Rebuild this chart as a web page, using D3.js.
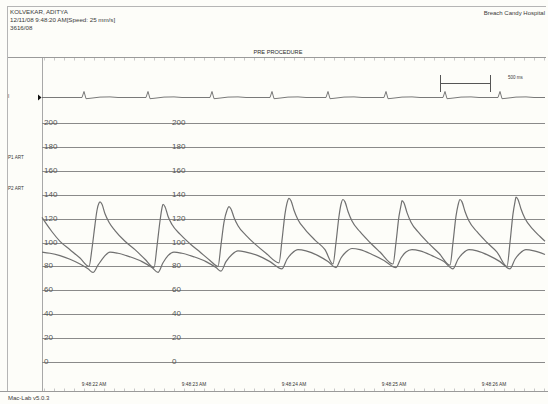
<!DOCTYPE html>
<html>
<head>
<meta charset="utf-8">
<script src="https://cdn.jsdelivr.net/npm/d3@7"></script>
<style>
  html, body { margin: 0; padding: 0; background: #fdfdf9; }
  svg { display: block; font-family: "Liberation Sans", Arial, sans-serif; }
</style>
</head>
<body>
<svg id="chart" width="548" height="404"></svg>
<script>
// Recording window: seconds after 9:48:20 AM
const timeDomain = [1.48, 6.51];
const pressureTicks = [0, 20, 40, 60, 80, 100, 120, 140, 160, 180, 200];
const timeTicks = [2, 3, 4, 5, 6];
const timeLabels = ["9:48:22 AM", "9:48:23 AM", "9:48:24 AM", "9:48:25 AM", "9:48:26 AM"];
const channelNames = ["I", "P1 ART", "P2 ART"];
const headerLines = ["KOLVEKAR, ADITYA", "12/11/08 9:48:20 AM[Speed: 25 mm/s]", "3616/08"];
const hospital = "Breach Candy Hospital";
const phase = "PRE PROCEDURE";
const footer = "Mac-Lab v5.0.3";
const scaleBar = [5.46, 5.96];   // 500 ms calibration bar
const scaleBarLabel = "500 ms";

// P1 ART pressure samples: [seconds, mmHg]
const p1Art = [
  [1.48,121],[1.52,116],[1.58,109],[1.66,101],[1.76,94],[1.86,87],[1.95,80],
  [1.98,95],[2.01,115],[2.03,127],[2.05,133],[2.06,134],[2.08,132],[2.11,124],[2.15,117],[2.21,110],[2.31,101],[2.41,94],[2.51,86],[2.60,79],
  [2.63,97],[2.66,118],[2.68,129],[2.69,132],[2.71,130],[2.74,122],[2.78,115],[2.86,107],[2.96,99],[3.06,92],[3.16,85],[3.24,80],
  [3.27,98],[3.30,117],[3.33,127],[3.35,130],[3.37,128],[3.40,121],[3.44,114],[3.52,106],[3.62,98],[3.72,91],[3.85,83],
  [3.88,102],[3.91,124],[3.93,133],[3.95,137],[3.97,135],[4.00,127],[4.04,119],[4.11,111],[4.21,102],[4.31,94],[4.39,82],
  [4.42,100],[4.45,122],[4.47,132],[4.49,136],[4.51,134],[4.54,126],[4.58,118],[4.66,109],[4.76,100],[4.86,92],[4.99,82],
  [5.02,100],[5.05,122],[5.07,131],[5.08,135],[5.10,133],[5.13,125],[5.17,117],[5.25,108],[5.35,99],[5.45,91],[5.56,81],
  [5.59,100],[5.62,122],[5.64,131],[5.66,136],[5.68,134],[5.71,126],[5.75,118],[5.83,109],[5.93,100],[6.03,92],[6.13,80],
  [6.16,100],[6.19,124],[6.21,134],[6.22,138],[6.24,136],[6.27,128],[6.31,120],[6.39,111],[6.46,105],[6.51,101]
];

// P2 ART pressure samples: [seconds, mmHg]
const p2Art = [
  [1.48,92],[1.56,91],[1.66,89],[1.76,86],[1.86,82],[1.94,78],[1.99,75],[2.04,81],[2.10,88],[2.16,92],[2.24,91],[2.36,88],[2.48,84],[2.58,79],[2.64,75],
  [2.69,83],[2.74,89],[2.80,92],[2.88,91],[3.00,88],[3.12,84],[3.22,79],[3.27,76],
  [3.32,84],[3.38,90],[3.44,93],[3.52,92],[3.64,89],[3.76,84],[3.88,78],
  [3.93,86],[3.98,91],[4.04,94],[4.12,93],[4.24,89],[4.34,84],[4.42,79],
  [4.47,87],[4.52,92],[4.58,95],[4.66,94],[4.78,90],[4.90,85],[5.02,79],
  [5.07,87],[5.12,92],[5.18,94],[5.26,93],[5.38,89],[5.50,84],[5.59,78],
  [5.64,86],[5.69,91],[5.75,94],[5.83,93],[5.95,89],[6.06,84],[6.16,78],
  [6.21,86],[6.26,91],[6.32,94],[6.40,93],[6.51,90]
];

// Lead I ECG samples: [seconds, mV]
const ecgLeadI = [
  [1.48,0],
  [1.88,0],[1.90,0.6],[1.92,-0.12],[1.96,-0.08],[2.06,0.04],[2.16,0.06],[2.24,0],
  [2.52,0],[2.54,0.6],[2.56,-0.12],[2.60,-0.08],[2.70,0.04],[2.80,0.06],[2.88,0],
  [3.16,0],[3.18,0.6],[3.20,-0.12],[3.24,-0.08],[3.34,0.04],[3.44,0.06],[3.52,0],
  [3.76,0],[3.78,0.6],[3.80,-0.12],[3.84,-0.08],[3.94,0.04],[4.04,0.06],[4.12,0],
  [4.32,0],[4.34,0.6],[4.36,-0.12],[4.40,-0.08],[4.50,0.04],[4.60,0.06],[4.68,0],
  [4.90,0],[4.92,0.6],[4.94,-0.12],[4.98,-0.08],[5.08,0.04],[5.18,0.06],[5.26,0],
  [5.49,0],[5.51,0.6],[5.53,-0.12],[5.57,-0.08],[5.67,0.04],[5.77,0.06],[5.85,0],
  [6.04,0],[6.06,0.6],[6.08,-0.12],[6.12,-0.08],[6.22,0.04],[6.32,0.06],[6.40,0],
  [6.51,0]
];

const svg = d3.select("#chart");
const W = 548, H = 404;
const plotLeft = 42, plotRight = 545;

const x = d3.scaleLinear().domain(timeDomain).range([plotLeft, plotRight]);
const y = d3.scaleLinear().domain([0, 200]).range([362, 123]);
const yEcg = d3.scaleLinear().domain([0, 1]).range([97.5, 87.5]);

const ink = "#3a3a3a", gridCol = "#8a8a8a", traceCol = "#707070";

// outer frame
svg.append("line").attr("x1", 7).attr("x2", 546).attr("y1", 6.5).attr("y2", 6.5)
  .attr("stroke", "#b5b5b5").attr("stroke-width", 1);
svg.append("line").attr("x1", 7.5).attr("x2", 7.5).attr("y1", 6).attr("y2", 391)
  .attr("stroke", "#b5b5b5").attr("stroke-width", 1);
svg.append("line").attr("x1", plotLeft + 0.5).attr("x2", plotLeft + 0.5).attr("y1", 57).attr("y2", 391)
  .attr("stroke", "#a8a8a8").attr("stroke-width", 1);

// header text
svg.selectAll("text.hdr").data(headerLines).join("text")
  .attr("class", "hdr").attr("x", 10).attr("y", (d, i) => 14 + i * 8)
  .attr("font-size", 6.2).attr("fill", ink).text(d => d);
svg.append("text").attr("x", 545).attr("y", 15).attr("text-anchor", "end")
  .attr("font-size", 6).attr("fill", ink).text(hospital);
svg.append("text").attr("x", 278).attr("y", 54).attr("text-anchor", "middle")
  .attr("font-size", 5.6).attr("fill", "#2a2a2a").text(phase);

// time ruler lines at top and bottom
const rulerTicks = d3.range(15, 66).map(d => d / 10);
const topAxis = d3.axisBottom(x).tickValues(rulerTicks).tickSize(3).tickFormat("");
svg.append("g").attr("transform", "translate(0,57.5)").call(topAxis)
  .call(g => g.select(".domain").remove())
  .call(g => g.selectAll("line").attr("stroke", "#c8c8c8"));
svg.append("line").attr("x1", 8).attr("x2", 546).attr("y1", 57.5).attr("y2", 57.5)
  .attr("stroke", "#9a9a9a").attr("stroke-width", 1);
const botAxis = d3.axisTop(x).tickValues(rulerTicks).tickSize(3).tickFormat("");
svg.append("g").attr("transform", "translate(0,391.5)").call(botAxis)
  .call(g => g.select(".domain").remove())
  .call(g => g.selectAll("line").attr("stroke", "#c8c8c8"));
svg.append("line").attr("x1", 0).attr("x2", 548).attr("y1", 391.5).attr("y2", 391.5)
  .attr("stroke", "#9a9a9a").attr("stroke-width", 1);

// pressure grid
svg.append("g").selectAll("line").data(pressureTicks).join("line")
  .attr("x1", plotLeft).attr("x2", plotRight)
  .attr("y1", d => Math.round(y(d)) + 0.5).attr("y2", d => Math.round(y(d)) + 0.5)
  .attr("stroke", gridCol).attr("stroke-width", 1);

// channel labels
const chanY = [98, 159, 190];
svg.selectAll("text.chan").data(channelNames).join("text")
  .attr("class", "chan").attr("x", 8).attr("y", (d, i) => chanY[i])
  .attr("font-size", 4.6).attr("fill", ink).text(d => d);

// ECG marker
svg.append("path").attr("d", "M38,94.5 L41.5,97.5 L38,100.5 Z").attr("fill", "#111");

// traces
const line = d3.line().x(d => x(d[0])).y(d => y(d[1])).curve(d3.curveMonotoneX);
const ecgLine = d3.line().x(d => x(d[0])).y(d => yEcg(d[1])).curve(d3.curveLinear);
svg.append("path").datum(ecgLeadI).attr("d", ecgLine)
  .attr("fill", "none").attr("stroke", "#6a6a6a").attr("stroke-width", 0.9);
svg.append("path").datum(p2Art).attr("d", line)
  .attr("fill", "none").attr("stroke", traceCol).attr("stroke-width", 1.2);
svg.append("path").datum(p1Art).attr("d", line)
  .attr("fill", "none").attr("stroke", traceCol).attr("stroke-width", 1.2);

// scale labels, repeated at two positions
[44, 172].forEach(lx => {
  svg.append("g").selectAll("text").data(pressureTicks).join("text")
    .attr("x", lx).attr("y", d => y(d) + 2)
    .attr("font-size", 8).attr("fill", "#555").text(d => d);
});

// 500 ms calibration bar
const sbY = 83.5;
svg.append("line").attr("x1", x(scaleBar[0])).attr("x2", x(scaleBar[1]))
  .attr("y1", sbY).attr("y2", sbY).attr("stroke", "#555").attr("stroke-width", 1);
scaleBar.forEach(t => {
  svg.append("line").attr("x1", Math.round(x(t)) + 0.5).attr("x2", Math.round(x(t)) + 0.5)
    .attr("y1", 75).attr("y2", 92).attr("stroke", "#555").attr("stroke-width", 1);
});
svg.append("text").attr("x", 508).attr("y", 79).attr("font-size", 4.5)
  .attr("fill", ink).text(scaleBarLabel);

// time labels
svg.selectAll("text.tl").data(timeTicks).join("text")
  .attr("class", "tl").attr("x", d => x(d)).attr("y", 385.5).attr("text-anchor", "middle")
  .attr("font-size", 4.8).attr("fill", "#333").text((d, i) => timeLabels[i]);

svg.append("text").attr("x", 8).attr("y", 400).attr("font-size", 6)
  .attr("fill", ink).text(footer);
</script>
</body>
</html>
